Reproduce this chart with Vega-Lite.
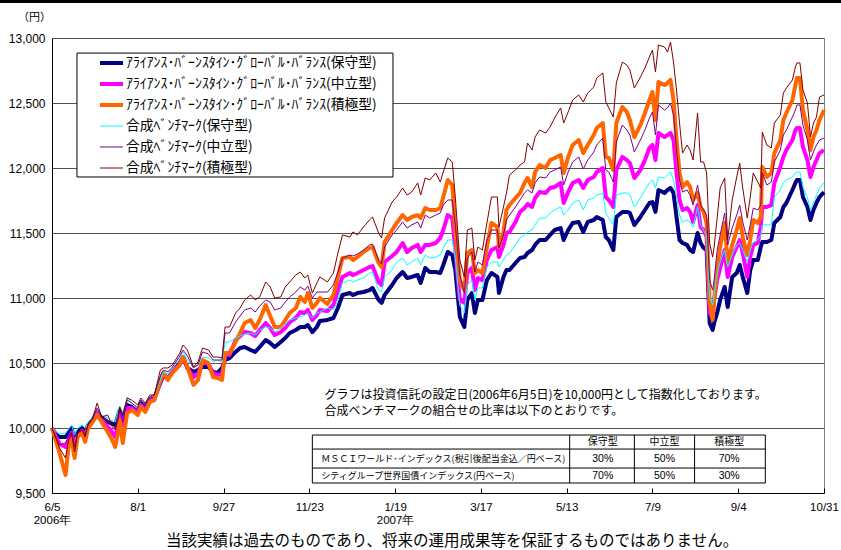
{
"$schema": "https://vega.github.io/schema/vega-lite/v6.json",
"width": 772, "height": 455,
"autosize": "none",
"padding": {"left": 52, "top": 38, "right": 17, "bottom": 57},
"background": "white",
"config": {"view": {"stroke": "#808080", "strokeWidth": 1}, "font": "Noto Sans CJK JP"},
"title": {"text": "当該実績は過去のものであり、将来の運用成果等を保証するものではありません。", "orient": "bottom", "anchor": "middle", "font": "Noto Sans CJK JP", "fontSize": 15.5, "fontWeight": "normal", "color": "black", "offset": 8, "dx": 14},
"datasets": {
"series": [
{"t":"2006-06-05","a":10000,"b":10000,"c":10000,"d":10000,"e":10000,"f":10000},
{"t":"2006-06-08","a":9947,"b":9923,"c":9885,"d":9970,"e":9923,"f":9908},
{"t":"2006-06-10","a":9931,"b":9877,"c":9808,"d":9954,"e":9870,"f":9846},
{"t":"2006-06-14","a":9931,"b":9854,"c":9639,"d":9962,"e":9885,"f":9769},
{"t":"2006-06-16","a":9962,"b":9908,"c":9854,"d":9992,"e":9931,"f":9908},
{"t":"2006-06-18","a":10000,"b":9962,"c":9908,"d":10023,"e":9970,"f":9962},
{"t":"2006-06-20","a":9908,"b":9854,"c":9769,"d":9947,"e":9854,"f":9815},
{"t":"2006-06-22","a":9970,"b":9939,"c":9931,"d":10000,"e":9962,"f":9962},
{"t":"2006-06-25","a":10000,"b":9977,"c":9962,"d":10023,"e":9985,"f":9985},
{"t":"2006-06-27","a":9970,"b":9931,"c":9893,"d":10000,"e":9947,"f":9931},
{"t":"2006-06-29","a":10023,"b":10008,"c":10000,"d":10046,"e":10023,"f":10031},
{"t":"2006-07-02","a":10061,"b":10054,"c":10046,"d":10085,"e":10069,"f":10077},
{"t":"2006-07-05","a":10123,"b":10115,"c":10100,"d":10138,"e":10154,"f":10192},
{"t":"2006-07-08","a":10077,"b":10061,"c":10046,"d":10100,"e":10077,"f":10085},
{"t":"2006-07-12","a":10046,"b":10008,"c":9970,"d":10077,"e":10061,"f":10100},
{"t":"2006-07-14","a":10038,"b":9985,"c":9931,"d":10061,"e":10023,"f":10046},
{"t":"2006-07-17","a":10023,"b":9931,"c":9854,"d":10046,"e":9985,"f":10000},
{"t":"2006-07-19","a":10100,"b":10031,"c":9970,"d":10138,"e":10077,"f":10077},
{"t":"2006-07-20","a":10138,"b":10108,"c":10061,"d":10169,"e":10138,"f":10162},
{"t":"2006-07-22","a":10077,"b":10023,"c":9885,"d":10115,"e":10046,"f":10100},
{"t":"2006-07-25","a":10177,"b":10154,"c":10115,"d":10238,"e":10215,"f":10231},
{"t":"2006-07-28","a":10162,"b":10154,"c":10138,"d":10192,"e":10192,"f":10215},
{"t":"2006-08-01","a":10123,"b":10115,"c":10100,"d":10154,"e":10154,"f":10177},
{"t":"2006-08-03","a":10192,"b":10177,"c":10162,"d":10215,"e":10215,"f":10231},
{"t":"2006-08-06","a":10162,"b":10138,"c":10123,"d":10192,"e":10177,"f":10192},
{"t":"2006-08-09","a":10215,"b":10208,"c":10200,"d":10238,"e":10238,"f":10254},
{"t":"2006-08-12","a":10231,"b":10223,"c":10215,"d":10254,"e":10254,"f":10254},
{"t":"2006-08-16","a":10346,"b":10354,"c":10369,"d":10369,"e":10400,"f":10446},
{"t":"2006-08-18","a":10408,"b":10415,"c":10423,"d":10431,"e":10446,"f":10462},
{"t":"2006-08-21","a":10385,"b":10385,"c":10369,"d":10415,"e":10431,"f":10462},
{"t":"2006-08-24","a":10431,"b":10431,"c":10423,"d":10462,"e":10469,"f":10485},
{"t":"2006-08-29","a":10500,"b":10492,"c":10485,"d":10538,"e":10554,"f":10577},
{"t":"2006-08-31","a":10546,"b":10546,"c":10546,"d":10585,"e":10600,"f":10638},
{"t":"2006-09-03","a":10462,"b":10462,"c":10469,"d":10523,"e":10554,"f":10600},
{"t":"2006-09-07","a":10431,"b":10392,"c":10331,"d":10469,"e":10462,"f":10469},
{"t":"2006-09-10","a":10446,"b":10415,"c":10369,"d":10485,"e":10485,"f":10508},
{"t":"2006-09-13","a":10469,"b":10508,"c":10523,"d":10546,"e":10585,"f":10615},
{"t":"2006-09-17","a":10469,"b":10492,"c":10500,"d":10538,"e":10569,"f":10600},
{"t":"2006-09-20","a":10431,"b":10423,"c":10392,"d":10508,"e":10523,"f":10546},
{"t":"2006-09-23","a":10423,"b":10408,"c":10385,"d":10523,"e":10523,"f":10546},
{"t":"2006-09-26","a":10462,"b":10415,"c":10369,"d":10508,"e":10523,"f":10538},
{"t":"2006-09-28","a":10523,"b":10562,"c":10577,"d":10662,"e":10731,"f":10777},
{"t":"2006-10-01","a":10538,"b":10562,"c":10577,"d":10662,"e":10731,"f":10777},
{"t":"2006-10-05","a":10585,"b":10677,"c":10662,"d":10692,"e":10815,"f":10885},
{"t":"2006-10-08","a":10615,"b":10708,"c":10731,"d":10708,"e":10862,"f":10923},
{"t":"2006-10-11","a":10623,"b":10738,"c":10808,"d":10723,"e":10908,"f":10985},
{"t":"2006-10-15","a":10600,"b":10731,"c":10831,"d":10731,"e":10923,"f":11023},
{"t":"2006-10-18","a":10585,"b":10708,"c":10769,"d":10715,"e":10892,"f":10985},
{"t":"2006-10-21","a":10623,"b":10754,"c":10831,"d":10754,"e":10938,"f":11008},
{"t":"2006-10-25","a":10677,"b":10808,"c":10946,"d":10777,"e":10985,"f":11123},
{"t":"2006-10-28","a":10654,"b":10769,"c":10862,"d":10769,"e":10969,"f":11085},
{"t":"2006-10-31","a":10623,"b":10715,"c":10777,"d":10738,"e":10908,"f":11000},
{"t":"2006-11-04","a":10662,"b":10738,"c":10777,"d":10769,"e":10923,"f":11008},
{"t":"2006-11-07","a":10692,"b":10769,"c":10831,"d":10800,"e":10969,"f":11085},
{"t":"2006-11-10","a":10731,"b":10815,"c":10885,"d":10831,"e":11008,"f":11123},
{"t":"2006-11-14","a":10754,"b":10846,"c":10923,"d":10846,"e":11046,"f":11177},
{"t":"2006-11-17","a":10777,"b":10892,"c":11008,"d":10854,"e":11085,"f":11200},
{"t":"2006-11-20","a":10777,"b":10885,"c":10969,"d":10869,"e":11061,"f":11154},
{"t":"2006-11-22","a":10792,"b":10908,"c":11038,"d":10885,"e":11092,"f":11177},
{"t":"2006-11-25","a":10738,"b":10831,"c":10923,"d":10846,"e":11000,"f":11038},
{"t":"2006-11-28","a":10777,"b":10869,"c":10962,"d":10885,"e":11046,"f":11115},
{"t":"2006-11-30","a":10823,"b":10908,"c":11000,"d":10892,"e":11046,"f":11162},
{"t":"2006-12-05","a":10831,"b":10900,"c":10954,"d":10923,"e":11046,"f":11123},
{"t":"2006-12-09","a":10846,"b":10946,"c":11023,"d":10908,"e":11100,"f":11192},
{"t":"2006-12-12","a":10923,"b":11061,"c":11162,"d":10985,"e":11200,"f":11346},
{"t":"2006-12-15","a":11023,"b":11162,"c":11308,"d":11115,"e":11308,"f":11485},
{"t":"2006-12-20","a":11038,"b":11192,"c":11315,"d":11138,"e":11331,"f":11469},
{"t":"2006-12-22","a":11023,"b":11177,"c":11292,"d":11123,"e":11323,"f":11508},
{"t":"2006-12-25","a":11038,"b":11192,"c":11315,"d":11138,"e":11338,"f":11485},
{"t":"2006-12-29","a":11046,"b":11215,"c":11354,"d":11154,"e":11369,"f":11546},
{"t":"2007-01-02","a":11061,"b":11238,"c":11385,"d":11192,"e":11408,"f":11600},
{"t":"2007-01-04","a":11077,"b":11246,"c":11392,"d":11200,"e":11415,"f":11623},
{"t":"2007-01-08","a":10985,"b":11123,"c":11269,"d":11061,"e":11292,"f":11500},
{"t":"2007-01-10","a":10962,"b":11100,"c":11238,"d":11046,"e":11262,"f":11462},
{"t":"2007-01-12","a":11023,"b":11277,"c":11431,"d":11162,"e":11392,"f":11615},
{"t":"2007-01-17","a":11100,"b":11323,"c":11523,"d":11215,"e":11485,"f":11738},
{"t":"2007-01-20","a":11154,"b":11354,"c":11577,"d":11277,"e":11523,"f":11777},
{"t":"2007-01-24","a":11200,"b":11423,"c":11638,"d":11308,"e":11585,"f":11846},
{"t":"2007-01-27","a":11154,"b":11354,"c":11600,"d":11254,"e":11538,"f":11792},
{"t":"2007-01-30","a":11162,"b":11385,"c":11623,"d":11277,"e":11562,"f":11815},
{"t":"2007-02-03","a":11177,"b":11408,"c":11638,"d":11308,"e":11585,"f":11885},
{"t":"2007-02-05","a":11115,"b":11354,"c":11615,"d":11254,"e":11538,"f":11792},
{"t":"2007-02-08","a":11231,"b":11408,"c":11692,"d":11331,"e":11638,"f":11923},
{"t":"2007-02-11","a":11200,"b":11408,"c":11677,"d":11308,"e":11615,"f":11908},
{"t":"2007-02-15","a":11200,"b":11423,"c":11677,"d":11315,"e":11638,"f":11962},
{"t":"2007-02-18","a":11192,"b":11462,"c":11692,"d":11331,"e":11654,"f":11892},
{"t":"2007-02-20","a":11254,"b":11523,"c":11777,"d":11385,"e":11715,"f":11969},
{"t":"2007-02-23","a":11354,"b":11638,"c":11908,"d":11446,"e":11754,"f":12077},
{"t":"2007-02-26","a":11331,"b":11615,"c":11869,"d":11446,"e":11754,"f":12046},
{"t":"2007-02-28","a":11215,"b":11369,"c":11523,"d":11308,"e":11562,"f":11777},
{"t":"2007-03-03","a":10854,"b":10985,"c":11138,"d":10946,"e":11177,"f":11292},
{"t":"2007-03-06","a":10777,"b":10962,"c":11061,"d":10885,"e":11038,"f":11162},
{"t":"2007-03-08","a":10985,"b":11192,"c":11346,"d":11100,"e":11308,"f":11523},
{"t":"2007-03-11","a":11038,"b":11231,"c":11369,"d":11138,"e":11354,"f":11538},
{"t":"2007-03-13","a":10885,"b":11061,"c":11192,"d":10985,"e":11200,"f":11292},
{"t":"2007-03-15","a":10985,"b":11154,"c":11215,"d":11077,"e":11277,"f":11392},
{"t":"2007-03-18","a":10985,"b":11138,"c":11192,"d":11077,"e":11254,"f":11369},
{"t":"2007-03-21","a":11138,"b":11292,"c":11392,"d":11238,"e":11446,"f":11577},
{"t":"2007-03-24","a":11192,"b":11369,"c":11577,"d":11277,"e":11523,"f":11777},
{"t":"2007-03-28","a":11162,"b":11392,"c":11546,"d":11277,"e":11523,"f":11777},
{"t":"2007-03-29","a":11038,"b":11315,"c":11392,"d":11238,"e":11385,"f":11546},
{"t":"2007-04-01","a":11162,"b":11408,"c":11508,"d":11292,"e":11485,"f":11700},
{"t":"2007-04-03","a":11215,"b":11500,"c":11677,"d":11331,"e":11600,"f":11808},
{"t":"2007-04-05","a":11215,"b":11508,"c":11715,"d":11346,"e":11638,"f":11946},
{"t":"2007-04-09","a":11269,"b":11585,"c":11769,"d":11408,"e":11700,"f":11985},
{"t":"2007-04-12","a":11308,"b":11662,"c":11808,"d":11462,"e":11754,"f":12023},
{"t":"2007-04-15","a":11315,"b":11692,"c":11885,"d":11485,"e":11808,"f":12046},
{"t":"2007-04-17","a":11346,"b":11723,"c":11923,"d":11508,"e":11831,"f":12192},
{"t":"2007-04-20","a":11369,"b":11700,"c":11854,"d":11523,"e":11808,"f":12138},
{"t":"2007-04-22","a":11408,"b":11769,"c":11969,"d":11562,"e":11885,"f":12238},
{"t":"2007-04-25","a":11446,"b":11815,"c":12023,"d":11615,"e":11931,"f":12292},
{"t":"2007-04-29","a":11446,"b":11808,"c":12000,"d":11615,"e":11923,"f":12269},
{"t":"2007-05-02","a":11485,"b":11846,"c":12061,"d":11654,"e":11969,"f":12315},
{"t":"2007-05-05","a":11523,"b":11854,"c":12077,"d":11677,"e":11985,"f":12385},
{"t":"2007-05-09","a":11538,"b":11885,"c":12100,"d":11700,"e":12008,"f":12462},
{"t":"2007-05-11","a":11446,"b":11731,"c":11962,"d":11638,"e":11869,"f":12346},
{"t":"2007-05-14","a":11523,"b":11815,"c":12085,"d":11677,"e":11969,"f":12431},
{"t":"2007-05-17","a":11577,"b":11885,"c":12177,"d":11731,"e":12046,"f":12523},
{"t":"2007-05-21","a":11585,"b":11908,"c":12215,"d":11754,"e":12085,"f":12562},
{"t":"2007-05-24","a":11508,"b":11846,"c":12115,"d":11677,"e":11992,"f":12508},
{"t":"2007-05-27","a":11585,"b":11908,"c":12177,"d":11754,"e":12061,"f":12577},
{"t":"2007-05-31","a":11600,"b":11931,"c":12254,"d":11769,"e":12123,"f":12623},
{"t":"2007-06-02","a":11623,"b":11969,"c":12308,"d":11792,"e":12177,"f":12692},
{"t":"2007-06-06","a":11600,"b":12000,"c":12346,"d":11808,"e":12231,"f":12731},
{"t":"2007-06-08","a":11469,"b":11777,"c":12085,"d":11654,"e":11985,"f":12508},
{"t":"2007-06-10","a":11446,"b":11754,"c":12077,"d":11615,"e":11969,"f":12462},
{"t":"2007-06-13","a":11369,"b":11700,"c":11985,"d":11562,"e":11892,"f":12392},
{"t":"2007-06-15","a":11623,"b":11985,"c":12346,"d":11792,"e":12200,"f":12654},
{"t":"2007-06-19","a":11662,"b":12085,"c":12469,"d":11808,"e":12331,"f":12815},
{"t":"2007-06-22","a":11662,"b":12061,"c":12431,"d":11808,"e":12292,"f":12792},
{"t":"2007-06-24","a":11654,"b":12038,"c":12369,"d":11792,"e":12254,"f":12754},
{"t":"2007-06-27","a":11562,"b":11923,"c":12238,"d":11700,"e":12123,"f":12615},
{"t":"2007-07-01","a":11623,"b":11985,"c":12331,"d":11769,"e":12215,"f":12700},
{"t":"2007-07-04","a":11677,"b":12061,"c":12423,"d":11831,"e":12292,"f":12769},
{"t":"2007-07-07","a":11731,"b":12154,"c":12523,"d":11885,"e":12385,"f":12854},
{"t":"2007-07-09","a":11738,"b":12177,"c":12585,"d":11908,"e":12431,"f":12907},
{"t":"2007-07-11","a":11662,"b":12061,"c":12369,"d":11846,"e":12254,"f":12738},
{"t":"2007-07-13","a":11831,"b":12269,"c":12662,"d":11931,"e":12485,"f":12946},
{"t":"2007-07-17","a":11808,"b":12238,"c":12638,"d":11923,"e":12446,"f":12931},
{"t":"2007-07-19","a":11831,"b":12254,"c":12654,"d":11946,"e":12462,"f":12892},
{"t":"2007-07-21","a":11846,"b":12269,"c":12677,"d":11969,"e":12500,"f":12969},
{"t":"2007-07-23","a":11808,"b":12215,"c":12523,"d":11908,"e":12408,"f":12815},
{"t":"2007-07-25","a":11623,"b":11962,"c":12215,"d":11777,"e":12138,"f":12600},
{"t":"2007-07-27","a":11446,"b":11754,"c":11962,"d":11638,"e":11908,"f":12346},
{"t":"2007-07-29","a":11423,"b":11677,"c":11854,"d":11585,"e":11815,"f":12115},
{"t":"2007-08-01","a":11408,"b":11692,"c":11892,"d":11600,"e":11831,"f":12177},
{"t":"2007-08-03","a":11369,"b":11662,"c":11854,"d":11585,"e":11792,"f":12138},
{"t":"2007-08-05","a":11354,"b":11585,"c":11754,"d":11546,"e":11715,"f":12061},
{"t":"2007-08-08","a":11500,"b":11715,"c":11808,"d":11700,"e":11869,"f":12423},
{"t":"2007-08-10","a":11423,"b":11546,"c":11700,"d":11562,"e":11715,"f":12046},
{"t":"2007-08-12","a":11385,"b":11523,"c":11662,"d":11523,"e":11677,"f":12046},
{"t":"2007-08-14","a":11369,"b":11469,"c":11577,"d":11469,"e":11638,"f":11962},
{"t":"2007-08-16","a":10808,"b":10885,"c":10962,"d":11008,"e":11138,"f":11423},
{"t":"2007-08-18","a":10754,"b":10846,"c":10831,"d":10946,"e":11061,"f":11315},
{"t":"2007-08-19","a":10808,"b":10985,"c":10985,"d":11023,"e":11138,"f":11392},
{"t":"2007-08-21","a":10885,"b":11138,"c":11238,"d":11192,"e":11369,"f":11615},
{"t":"2007-08-23","a":10985,"b":11231,"c":11392,"d":11277,"e":11485,"f":11846},
{"t":"2007-08-26","a":11085,"b":11369,"c":11577,"d":11369,"e":11654,"f":11923},
{"t":"2007-08-28","a":10931,"b":11162,"c":11269,"d":11238,"e":11408,"f":11446},
{"t":"2007-08-31","a":11162,"b":11315,"c":11408,"d":11331,"e":11538,"f":11754},
{"t":"2007-09-03","a":11192,"b":11392,"c":11523,"d":11408,"e":11638,"f":11931},
{"t":"2007-09-05","a":11254,"b":11446,"c":11615,"d":11423,"e":11715,"f":12038},
{"t":"2007-09-07","a":11162,"b":11346,"c":11469,"d":11369,"e":11585,"f":11846},
{"t":"2007-09-10","a":11038,"b":11162,"c":11331,"d":11277,"e":11446,"f":11615},
{"t":"2007-09-12","a":11215,"b":11315,"c":11446,"d":11369,"e":11562,"f":11777},
{"t":"2007-09-14","a":11292,"b":11408,"c":11600,"d":11431,"e":11692,"f":11962},
{"t":"2007-09-17","a":11292,"b":11423,"c":11577,"d":11446,"e":11677,"f":11892},
{"t":"2007-09-19","a":11392,"b":11546,"c":11623,"d":11485,"e":11715,"f":11846},
{"t":"2007-09-20","a":11431,"b":11700,"c":12008,"d":11562,"e":11962,"f":12277},
{"t":"2007-09-23","a":11431,"b":11700,"c":11931,"d":11562,"e":11869,"f":12177},
{"t":"2007-09-26","a":11446,"b":11715,"c":11962,"d":11562,"e":11892,"f":12154},
{"t":"2007-09-28","a":11577,"b":11885,"c":12115,"d":11777,"e":12046,"f":12346},
{"t":"2007-10-02","a":11623,"b":12008,"c":12215,"d":11831,"e":12138,"f":12408},
{"t":"2007-10-04","a":11700,"b":12085,"c":12369,"d":11885,"e":12254,"f":12577},
{"t":"2007-10-06","a":11731,"b":12138,"c":12423,"d":11908,"e":12292,"f":12615},
{"t":"2007-10-10","a":11831,"b":12215,"c":12523,"d":11931,"e":12392,"f":12677},
{"t":"2007-10-12","a":11885,"b":12292,"c":12638,"d":11962,"e":12446,"f":12777},
{"t":"2007-10-13","a":11908,"b":12308,"c":12692,"d":11969,"e":12485,"f":12808},
{"t":"2007-10-15","a":11908,"b":12308,"c":12692,"d":11969,"e":12485,"f":12808},
{"t":"2007-10-17","a":11777,"b":12162,"c":12446,"d":11854,"e":12331,"f":12600},
{"t":"2007-10-20","a":11700,"b":12061,"c":12292,"d":11769,"e":12215,"f":12500},
{"t":"2007-10-22","a":11600,"b":11931,"c":12138,"d":11677,"e":12061,"f":12238},
{"t":"2007-10-24","a":11677,"b":12008,"c":12238,"d":11731,"e":12123,"f":12346},
{"t":"2007-10-26","a":11731,"b":12061,"c":12292,"d":11792,"e":12177,"f":12392},
{"t":"2007-10-28","a":11777,"b":12115,"c":12369,"d":11846,"e":12215,"f":12546},
{"t":"2007-10-31","a":11815,"b":12138,"c":12446,"d":11885,"e":12231,"f":12562}
]
},
"layer": [
{
"data": {"name": "series"},
"transform": [{"fold": ["a", "b", "c", "d", "e", "f"], "as": ["k", "val"]}],
"mark": {"type": "line", "strokeJoin": "round", "clip": false},
"encoding": {
"x": {"field": "t", "type": "temporal",
"scale": {"type": "utc", "domain": [{"year": 2006, "month": 6, "date": 5, "utc": true}, {"year": 2007, "month": 10, "date": 31, "utc": true}]},
"axis": {"title": null, "values": [{"year":2006,"month":6,"date":5,"utc":true},{"year":2006,"month":8,"date":1,"utc":true},{"year":2006,"month":9,"date":27,"utc":true},{"year":2006,"month":11,"date":23,"utc":true},{"year":2007,"month":1,"date":19,"utc":true},{"year":2007,"month":3,"date":17,"utc":true},{"year":2007,"month":5,"date":13,"utc":true},{"year":2007,"month":7,"date":9,"utc":true},{"year":2007,"month":9,"date":4,"utc":true},{"year":2007,"month":10,"date":31,"utc":true}],
"labelExpr": "(utcyear(datum.value)==2006 && utcmonth(datum.value)==5) ? ['6/5','2006年'] : (utcmonth(datum.value)==0 ? ['1/19','2007年'] : (utcmonth(datum.value)+1)+'/'+utcdate(datum.value))",
"domainColor": "black", "domainWidth": 1, "tickColor": "black", "tickSize": -5, "labelPadding": 13,
"labelFont": "Liberation Sans", "labelFontSize": 11.5, "labelColor": "black", "labelLineHeight": 13,
"labelFlush": false, "labelOverlap": false, "labelBound": false, "grid": false}
},
"y": {"field": "val", "type": "quantitative",
"scale": {"domain": [9500, 13000], "nice": false, "zero": false},
"axis": {"values": [9500, 10000, 10500, 11000, 11500, 12000, 12500, 13000], "labelExpr": "format(datum.value, ',')",
"title": "（円）", "titleAngle": 0, "titleX": -18, "titleY": -21, "titleAlign": "center", "titleBaseline": "middle",
"titleFont": "Noto Sans CJK JP", "titleFontSize": 11, "titleFontWeight": "normal", "titleColor": "black",
"ticks": false, "labelPadding": 7, "labelFont": "Liberation Sans", "labelFontSize": 12, "labelColor": "black",
"domainColor": "black", "domainWidth": 1, "grid": true, "gridColor": "#505050", "gridWidth": 1}
},
"color": {"field": "k", "type": "nominal",
"scale": {"domain": ["a", "b", "c", "d", "e", "f"], "range": ["#000080", "#FF00FF", "#FF6600", "#00FFFF", "#800080", "#800000"]},
"legend": {"orient": "none", "legendX": 48, "legendY": 14.75, "title": null,
"symbolType": "stroke", "symbolSize": 529, "padding": 0, "rowPadding": 0, "clipHeight": 20.5, "symbolOffset": 4.6, "labelOffset": 7.6,
"labelFont": "Noto Sans CJK JP", "labelFontSize": 13.8, "labelColor": "black", "labelLimit": 400,
"labelExpr": "{'a':'ｱﾗｲｱﾝｽ･ﾊﾞｰﾝｽﾀｲﾝ･ｸﾞﾛｰﾊﾞﾙ･ﾊﾞﾗﾝｽ(保守型)','b':'ｱﾗｲｱﾝｽ･ﾊﾞｰﾝｽﾀｲﾝ･ｸﾞﾛｰﾊﾞﾙ･ﾊﾞﾗﾝｽ(中立型)','c':'ｱﾗｲｱﾝｽ･ﾊﾞｰﾝｽﾀｲﾝ･ｸﾞﾛｰﾊﾞﾙ･ﾊﾞﾗﾝｽ(積極型)','d':'合成ﾍﾞﾝﾁﾏｰｸ(保守型)','e':'合成ﾍﾞﾝﾁﾏｰｸ(中立型)','f':'合成ﾍﾞﾝﾁﾏｰｸ(積極型)'}[datum.label]",
"encode": {"symbols": {"update": {"strokeWidth": {"signal": "indexof(['a','b','c'], datum.value) >= 0 ? 4 : 1"}}}}}
},
"strokeWidth": {"condition": {"test": "indexof(['a','b','c'], datum.k) >= 0", "value": 4}, "value": 1}
}
},
{
"data": {"values": [{"t1": "2006-06-21T14:00:00Z", "t2": "2007-01-17T14:00:00Z", "v1": 12884, "v2": 11931}]},
"mark": {"type": "rect", "fill": "white", "stroke": "black", "strokeWidth": 1},
"encoding": {
"x": {"field": "t1", "type": "temporal"},
"x2": {"field": "t2"},
"y": {"field": "v1", "type": "quantitative"},
"y2": {"field": "v2"}
}
},
{
"data": {"values": [{"t1": "2006-04-30T00:00:00Z", "t2": "2007-11-12T00:00:00Z", "v1": 13295, "v2": 13270}]},
"mark": {"type": "rect", "fill": "black", "clip": false},
"encoding": {
"x": {"field": "t1", "type": "temporal"},
"x2": {"field": "t2"},
"y": {"field": "v1", "type": "quantitative"},
"y2": {"field": "v2"}
}
},
{
"data": {"values": [
{"t1": "2006-11-25", "t2": "2007-09-22", "v1": 9946, "v2": 9946},
{"t1": "2006-11-25", "t2": "2007-09-22", "v1": 9838, "v2": 9838},
{"t1": "2006-11-25", "t2": "2007-09-22", "v1": 9692, "v2": 9692},
{"t1": "2006-11-25", "t2": "2007-09-22", "v1": 9577, "v2": 9577},
{"t1": "2006-11-25", "t2": "2006-11-25", "v1": 9946, "v2": 9577},
{"t1": "2007-05-15", "t2": "2007-05-15", "v1": 9946, "v2": 9577},
{"t1": "2007-06-27", "t2": "2007-06-27", "v1": 9946, "v2": 9577},
{"t1": "2007-08-06", "t2": "2007-08-06", "v1": 9946, "v2": 9577},
{"t1": "2007-09-22", "t2": "2007-09-22", "v1": 9946, "v2": 9577}
]},
"mark": {"type": "rule", "color": "black", "strokeWidth": 1},
"encoding": {
"x": {"field": "t1", "type": "temporal"},
"x2": {"field": "t2"},
"y": {"field": "v1", "type": "quantitative"},
"y2": {"field": "v2"}
}
},
{
"data": {"values": [
{"t": "2006-12-03", "v": 10254, "s": "グラフは投資信託の設定日(2006年6月5日)を10,000円として指数化しております。"},
{"t": "2006-12-03", "v": 10131, "s": "合成ベンチマークの組合せの比率は以下のとおりです。"}
]},
"mark": {"type": "text", "align": "left", "baseline": "middle", "font": "Noto Sans CJK JP", "fontSize": 12, "color": "black"},
"encoding": {
"x": {"field": "t", "type": "temporal"},
"y": {"field": "v", "type": "quantitative"},
"text": {"field": "s"}
}
},
{
"data": {"values": [
{"t": "2006-12-01", "v": 9765, "s": "ＭＳＣＩワールド･インデックス(税引後配当金込／円ベース)"},
{"t": "2006-12-01", "v": 9634, "s": "シティグループ世界国債インデックス(円ベース)"}
]},
"mark": {"type": "text", "align": "left", "baseline": "middle", "font": "Noto Sans CJK JP", "fontSize": 9, "color": "black"},
"encoding": {
"x": {"field": "t", "type": "temporal"},
"y": {"field": "v", "type": "quantitative"},
"text": {"field": "s"}
}
},
{
"data": {"values": [
{"t": "2007-06-06", "v": 9892, "s": "保守型"},
{"t": "2007-07-17", "v": 9892, "s": "中立型"},
{"t": "2007-08-29", "v": 9892, "s": "積極型"}
]},
"mark": {"type": "text", "align": "center", "baseline": "middle", "font": "Noto Sans CJK JP", "fontSize": 10, "color": "black"},
"encoding": {
"x": {"field": "t", "type": "temporal"},
"y": {"field": "v", "type": "quantitative"},
"text": {"field": "s"}
}
},
{
"data": {"values": [
{"t": "2007-06-06", "v": 9765, "s": "30%"},
{"t": "2007-07-17", "v": 9765, "s": "50%"},
{"t": "2007-08-29", "v": 9765, "s": "70%"},
{"t": "2007-06-06", "v": 9634, "s": "70%"},
{"t": "2007-07-17", "v": 9634, "s": "50%"},
{"t": "2007-08-29", "v": 9634, "s": "30%"}
]},
"mark": {"type": "text", "align": "center", "baseline": "middle", "font": "Liberation Sans", "fontSize": 10.5, "color": "black"},
"encoding": {
"x": {"field": "t", "type": "temporal"},
"y": {"field": "v", "type": "quantitative"},
"text": {"field": "s"}
}
}
]
}
